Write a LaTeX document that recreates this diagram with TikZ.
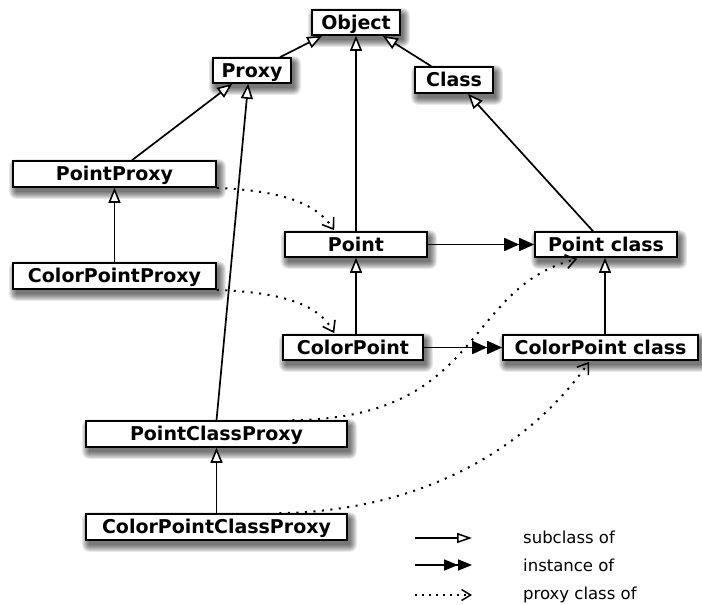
\documentclass[tikz,border=0pt]{standalone}
\usepackage{fontspec}
\setmainfont{DejaVu Sans}
\usetikzlibrary{arrows.meta,calc}
\pgfdeclarelayer{bg}
\pgfsetlayers{bg,main}
\begin{document}
\begin{tikzpicture}[x=1pt,y=-1pt,
  box/.style={draw, line width=1.6pt, fill=white, inner sep=0pt,
    text height=13.8pt, text depth=0pt,
    font=\bfseries\fontsize{19}{21}\selectfont},
  shadowlayer/.style={fill=black, opacity=0.09},
  sub/.style={line width=1.7pt, -{Triangle[open, fill=white, length=15pt, width=12pt, line width=1.6pt]}},
  inst/.style={line width=1.7pt, -{Triangle[length=15pt,width=13pt] Triangle[length=15pt,width=13pt]}},
  prox/.style={line width=2pt, dash pattern=on 2pt off 6.5pt, -{Straight Barb[length=10pt,width=14pt,line width=1.6pt]}},
  subL/.style={line width=1.6pt, -{Triangle[open, fill=white, length=15pt, width=10pt, line width=1.5pt]}},
  instL/.style={line width=1.6pt, -{Triangle[length=14pt,width=11pt] Triangle[length=14pt,width=11pt]}},
  proxL/.style={line width=1.8pt, dash pattern=on 2pt off 5pt, -{Straight Barb[length=9pt,width=11pt,line width=1.5pt]}},
  legtext/.style={anchor=west, inner sep=0pt, font=\fontsize{16.5}{18}\selectfont},
]
\useasboundingbox (0,0) rectangle (702,605);

% nodes
\node[box, minimum width=88pt, minimum height=25pt] (Object) at (356,22.5) {Object};
\node[box, minimum width=78pt, minimum height=25pt] (Proxy) at (252,70.5) {Proxy};
\node[box, minimum width=78pt, minimum height=26pt] (Class) at (454,80) {Class};
\node[box, minimum width=203pt, minimum height=26pt] (PP) at (114.5,174) {PointProxy};
\node[box, minimum width=203pt, minimum height=26pt] (CPP) at (114.5,276) {ColorPointProxy};
\node[box, minimum width=142pt, minimum height=25pt] (Point) at (356,244.5) {Point};
\node[box, minimum width=142pt, minimum height=25pt] (PC) at (606,244.5) {Point class};
\node[box, minimum width=140pt, minimum height=25pt] (CP) at (353,347.5) {ColorPoint};
\node[box, minimum width=195pt, minimum height=25pt] (CPC) at (600.5,347.5) {ColorPoint class};
\node[box, minimum width=261pt, minimum height=26pt] (PCP) at (216.5,434) {PointClassProxy};
\node[box, minimum width=261pt, minimum height=26pt] (CPCP) at (216.5,527) {ColorPointClassProxy};

% soft drop shadows
\begin{pgfonlayer}{bg}
\foreach \n in {Object,Proxy,Class,PP,CPP,Point,PC,CP,CPC,PCP,CPCP}{
  \foreach \r in {7,6,5,4,3,2,1,0}{
    \fill[shadowlayer, rounded corners=\r pt]
      ($(\n.north west)+(3-\r+1,5-\r+1)$) rectangle ($(\n.south east)+(3+\r-1,5+\r-1)$);
  }
}
\end{pgfonlayer}

% subclass connectors
\draw[sub] ($(Proxy.north)+(28,0)$) -- ($(Object.south west)+(11,0)$);
\draw[sub] ($(Class.north west)+(17,0)$) -- ($(Object.south east)+(-18,0)$);
\draw[sub] (Point.north) -- (Object.south);
\draw[sub] ($(PP.north)+(17.5,0)$) -- ($(Proxy.south west)+(20,0)$);
\draw[sub] (PCP.north) -- ($(Proxy.south west)+(36,0)$);
\draw[sub] ($(PC.north)+(-13,0)$) -- ($(Class.south)+(14,0)$);
\draw[sub] (CPP.north) -- (PP.south);
\draw[sub] (CP.north -| Point.south) -- (Point.south);
\draw[sub] ($(CPC.north -| PC.south)+(-1,0)$) -- ($(PC.south)+(-1,0)$);
\draw[sub] (CPCP.north) -- (PCP.south);

% instance connectors
\draw[inst] (Point.east) -- (PC.west);
\draw[inst] (CP.east) -- (CPC.west);

% proxy connectors
\draw[prox] (PP.south east) .. controls +(59,3) and +(-20,-30) .. ($(Point.north west)+(50,-1)$);
\draw[prox] (CPP.south east) .. controls +(69,3) and +(-15,-28) .. ($(CP.north west)+(52,-1)$);
\draw[prox] ($(PCP.north)+(76,0)$) .. controls (485,418) and (462,288) .. ($(PC.south west)+(43,1)$);
\draw[prox] ($(CPCP.north)+(63,0)$) .. controls (450,510) and (545,425) .. ($(CPC.south west)+(87,1)$);

% legend
\coordinate (l1a) at (415,538); \coordinate (l1b) at (472,538);
\coordinate (l2a) at (415,565); \coordinate (l2b) at (472,565);
\coordinate (l3a) at (415,595); \coordinate (l3b) at (472,595);
\draw[subL] (l1a) -- (l1b);
\draw[instL] (l2a) -- (l2b);
\draw[proxL] (l3a) -- (l3b);
\node[legtext] (t1) at (523,537) {subclass of};
\node[legtext] (t2) at (523,565) {instance of};
\node[legtext] (t3) at (523,595) {proxy class of};
\end{tikzpicture}
\end{document}
